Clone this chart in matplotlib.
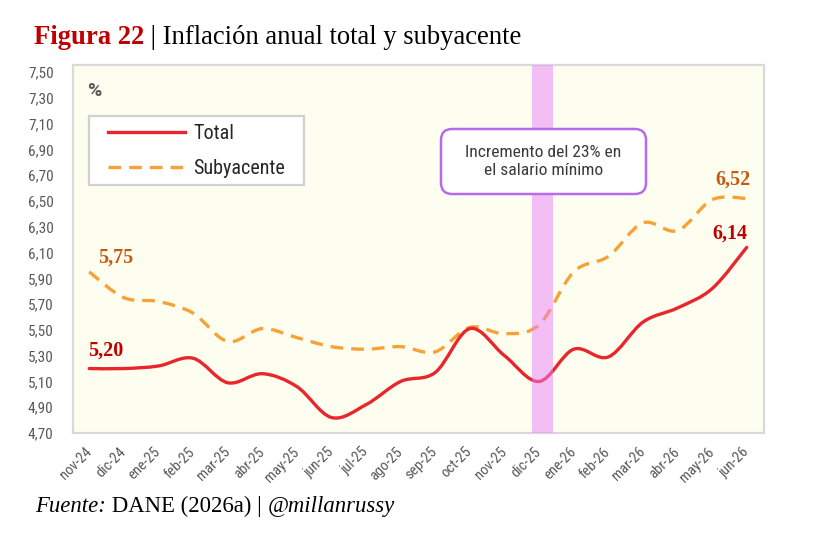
import numpy as np
import matplotlib
matplotlib.use('Agg')
import matplotlib.pyplot as plt
from matplotlib.path import Path
from matplotlib.patches import PathPatch, FancyBboxPatch
from matplotlib.lines import Line2D
from matplotlib.legend_handler import HandlerLine2D
from matplotlib.text import Annotation

# ---------------- data ----------------
months = ['nov-24', 'dic-24', 'ene-25', 'feb-25', 'mar-25', 'abr-25', 'may-25',
          'jun-25', 'jul-25', 'ago-25', 'sep-25', 'oct-25', 'nov-25', 'dic-25',
          'ene-26', 'feb-26', 'mar-26', 'abr-26', 'may-26', 'jun-26']
total = [5.20, 5.20, 5.22, 5.28, 5.09, 5.16, 5.06, 4.82, 4.92, 5.10,
         5.17, 5.51, 5.30, 5.10, 5.35, 5.29, 5.56, 5.67, 5.82, 6.14]
subyacente = [5.95, 5.75, 5.72, 5.63, 5.41, 5.51, 5.44, 5.37, 5.35, 5.37,
              5.33, 5.52, 5.47, 5.54, 5.95, 6.07, 6.33, 6.27, 6.51, 6.52]
yticks = [4.70, 4.90, 5.10, 5.30, 5.50, 5.70, 5.90, 6.10, 6.30, 6.50,
          6.70, 6.90, 7.10, 7.30, 7.50]
ytick_labels = ['4,70', '4,90', '5,10', '5,30', '5,50', '5,70', '5,90', '6,10',
                '6,30', '6,50', '6,70', '6,90', '7,10', '7,30', '7,50']
series_names = ['Total', 'Subyacente']
total_labels = ['5,20', '6,14']
suby_labels = ['5,75', '6,52']
event_month = 'dic-25'
event_text = 'Incremento del 23% en\nel salario mínimo'
title_bold = 'Figura 22'
title_rest = ' | Inflación anual total y subyacente'
source_parts = ['Fuente:', ' DANE (2026a) | ', '@millanrussy']

# ---------------- style ----------------
RED = '#E8262B'
ORANGE = '#F7A236'
DARKRED = '#C00000'
BROWN = '#C55A11'
GRAY = '#595959'
SANS = ['Roboto Condensed', 'Roboto', 'DejaVu Sans']
SERIF = ['Liberation Serif', 'DejaVu Serif']

fig = plt.figure(figsize=(8.34, 5.40), dpi=100)
fig.patch.set_facecolor('white')
ax = fig.add_axes([73/834, 1-433/540, (764-73)/834, (433-65)/540])
ax.set_facecolor('#FDFEEF')

x = np.arange(len(months))


def smooth_path(xs, ys):
    pts = np.column_stack([xs, ys]).astype(float)
    n = len(pts)
    verts = [pts[0]]
    codes = [Path.MOVETO]
    for i in range(n - 1):
        p0 = pts[i - 1] if i > 0 else pts[i]
        p1 = pts[i]
        p2 = pts[i + 1]
        p3 = pts[i + 2] if i + 2 < n else pts[i + 1]
        verts += [p1 + (p2 - p0) / 6.0, p2 - (p3 - p1) / 6.0, p2]
        codes += [Path.CURVE4] * 3
    return Path(verts, codes)


DASH = (0, (3.8, 2.4))
ax.add_patch(PathPatch(smooth_path(x, subyacente), fill=False, edgecolor=ORANGE,
                       lw=2.4, linestyle=DASH, capstyle='butt', zorder=2))
ax.add_patch(PathPatch(smooth_path(x, total), fill=False, edgecolor=RED,
                       lw=2.4, capstyle='round', zorder=2.1))

ev = months.index(event_month)
ax.axvspan(ev - 0.2, ev + 0.39, color='#EA80F8', alpha=0.5, lw=0, zorder=3)

ax.set_xlim(-0.47, len(months) - 0.5)
ax.set_ylim(4.70, 7.555)
ax.set_yticks(yticks)
ax.set_yticklabels(ytick_labels, fontsize=11, color=GRAY, family=SANS)
ax.set_xticks(x)
ax.set_xticklabels(months, fontsize=10.5, color=GRAY, family=SANS,
                   rotation=45, ha='right', va='center', rotation_mode='anchor')
ax.tick_params(axis='y', length=0, pad=14)
ax.tick_params(axis='x', length=0, pad=12)
for s in ax.spines.values():
    s.set_color('#D9D9D9')
    s.set_linewidth(1.6)

# legend
handles = [Line2D([], [], color=RED, lw=2.4),
           Line2D([], [], color=ORANGE, lw=2.4, linestyle=DASH)]
lx0 = (89 - 73) / 691
lx1 = (304 - 73) / 691
ly1 = (433 - 116) / 368
leg = ax.legend(handles, series_names, loc='upper left',
                bbox_to_anchor=(lx0, ly1 - 0.2, lx1 - lx0, 0.2), mode='expand',
                borderaxespad=0, borderpad=0.38, labelspacing=0.8,
                handlelength=4.4, handletextpad=0.38, fancybox=False,
                framealpha=1, edgecolor='#D0D0D0',
                handler_map={Line2D: HandlerLine2D(xpad=0.55)},
                prop={'family': SANS, 'size': 14.5})
leg.get_frame().set_linewidth(1.6)
for t in leg.get_texts():
    t.set_color('#262626')
leg.set_zorder(5)

# % label
ax.text((87 - 73) / 691, (433 - 91) / 368, '%', transform=ax.transAxes,
        fontsize=14, fontweight='bold', color=GRAY, family=['Roboto', 'DejaVu Sans'],
        ha='left', va='center', zorder=5)

# annotation box
bx0, bx1 = (441 - 73) / 691, (646 - 73) / 691
by0, by1 = (433 - 194) / 368, (433 - 129) / 368
ax.add_patch(FancyBboxPatch((bx0, by0), bx1 - bx0, by1 - by0,
                            boxstyle='round,pad=0,rounding_size=0.016',
                            mutation_aspect=691 / 368, transform=ax.transAxes,
                            facecolor='white', edgecolor='#B86AEC', lw=1.8, zorder=6))
ax.text((543.5 - 73) / 691, (433 - 161.5) / 368, event_text, transform=ax.transAxes,
        ha='center', va='center', fontsize=12.6, color='#3A3A3A', family=SANS,
        linespacing=1.3, zorder=7)

# value labels
lab_kw = dict(textcoords='offset pixels', ha='center', va='center',
              fontsize=14.5, fontweight='bold', family=SERIF, zorder=5)
ax.annotate(total_labels[0], (x[0], total[0]), xytext=(16.5, 18), color=DARKRED, **lab_kw)
ax.annotate(total_labels[1], (x[-1], total[-1]), xytext=(-16.5, 14), color=DARKRED, **lab_kw)
ax.annotate(suby_labels[0], (x[0], subyacente[0]), xytext=(26.5, 14), color=BROWN, **lab_kw)
ax.annotate(suby_labels[1], (x[-1], subyacente[-1]), xytext=(-14, 19), color=BROWN, **lab_kw)

# title
t1 = fig.text(34 / 834, 1 - 44.5 / 540, title_bold, fontsize=18, fontweight='bold',
              color='#C00000', family=SERIF, ha='left', va='baseline')
t2 = fig.add_artist(Annotation(title_rest, xy=(1, 0), xycoords=t1, va='bottom',
                               ha='left', fontsize=18, color='black', family=SERIF))

# footer
f1 = fig.text(35 / 834, 1 - 512 / 540, source_parts[0], fontsize=14, style='italic',
              color='black', family=SERIF, ha='left', va='baseline')
f2 = fig.add_artist(Annotation(source_parts[1], xy=(1, 0), xycoords=f1,
                               va='bottom', ha='left', fontsize=14,
                               color='black', family=SERIF))
f3 = fig.add_artist(Annotation(source_parts[2], xy=(1, 0), xycoords=f2,
                               va='bottom', ha='left', fontsize=14,
                               style='italic', color='black', family=SERIF))

# fit title / footer widths to the reference layout
fig.canvas.draw()
r = fig.canvas.get_renderer()


def fit(parts, target):
    x0 = parts[0].get_window_extent(r).x0
    x1 = parts[-1].get_window_extent(r).x1
    k = target / (x1 - x0)
    for p in parts:
        p.set_fontsize(p.get_fontsize() * k)


fit([t1, t2], 522 - 34)
fit([f1, f2, f3], 397 - 35)

fig.savefig('out.png', dpi=100, facecolor='white')
